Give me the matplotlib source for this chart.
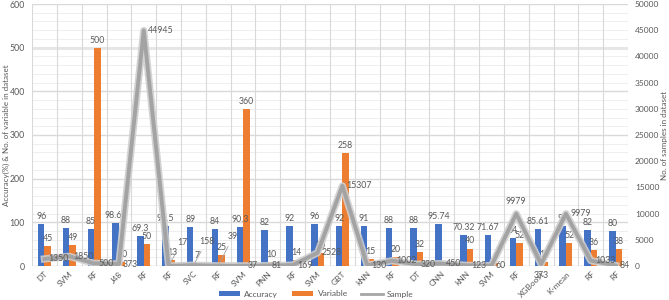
import matplotlib
matplotlib.use('Agg')
import matplotlib.pyplot as plt
from matplotlib.lines import Line2D
from matplotlib.patches import Patch
import numpy as np

plt.rcParams['font.family'] = ['Lato', 'DejaVu Sans']

models = ['DT', 'SVM', 'RF', 'J48', 'RF', 'RF', 'SVC', 'RF', 'SVM', 'PNN', 'RF', 'SVM',
          'GBT', 'kNN', 'RF', 'DT', 'CNN', 'kNN', 'SVM', 'RF', 'XGBoost', 'K-mean', 'RF', 'RF']
accuracy = [96, 88, 85, 98.66, 69.3, 91.5, 89, 84, 90.3, 82, 92, 96,
            92, 91, 88, 88, 95.74, 70.32, 71.67, 64, 85.61, 91, 82, 80]
variables = [45, 49, 500, 10, 50, 13, 7, 25, 360, 10, 14, 30,
             258, 15, 20, 32, np.nan, 40, 6, 52, 10, 52, 36, 38]
samples = [1350, 1850, 500, 373, 44945, 17, 158, 39, 37, 81, 169, 2528,
           15307, 130, 1002, 320, 450, 123, 60, 9979, 373, 9979, 1033, 84]

BLUE = '#4472C4'
ORANGE = '#ED7D31'
GRAY_TXT = '#595959'
FS = 6.3

fig = plt.figure(figsize=(6.69, 3.0), dpi=100)
ax = fig.add_axes([32 / 669, 34 / 300, 596 / 669, 262 / 300])
ax2 = ax.twinx()

x = np.arange(len(models))
w = 0.26

# grid
for v in np.arange(0, 601, 20):
    major = v % 100 == 0
    ax.axhline(v, color='#d9d9d9' if major else '#eeeeee', lw=1.0 if major else 0.7,
               zorder=0)
ax.axhline(500, color='#e6e6e6', lw=2.2, zorder=0)
for b in np.arange(-0.5, len(models), 1):
    ax.axvline(b, color='#d9d9d9', lw=0.8, zorder=0)

ax.bar(x - w / 2, accuracy, w, color=BLUE, zorder=2)
ax.bar(x + w / 2, np.nan_to_num(variables), w, color=ORANGE, zorder=2)

for i, a in enumerate(accuracy):
    ax.text(x[i] - w / 2, a + 7, f'{a:g}', ha='center', va='bottom',
            fontsize=FS, color=GRAY_TXT, zorder=5)
for i, v in enumerate(variables):
    if np.isnan(v):
        continue
    ax.text(x[i] + w / 2, v + 7, f'{v:g}', ha='center', va='bottom',
            fontsize=FS, color=GRAY_TXT, zorder=5)

# sample line on secondary axis
ax2.plot(x, samples, color='#cfcfcf', lw=5.2, alpha=0.9, zorder=3)
ax2.plot(x, samples, color='#a3a3a3', lw=2.8, zorder=4)

# sample labels: default right of the point; a few moved
special = {
    5: (6, 17, 'left'),
    6: (4, 17, 'left'),
    7: (7, 21, 'left'),
    19: (0, 9, 'center'),
    20: (0, -8, 'center'),
}
for i, s in enumerate(samples):
    if i in special:
        dx, dy, ha = special[i]
        arrow = dict(arrowstyle='-', color='#a0a0a0', lw=0.6) if i in (5, 6, 7) else None
        ax2.annotate(f'{s}', (x[i], s), xytext=(dx, dy), textcoords='offset points',
                     ha=ha, va='center', fontsize=FS, color=GRAY_TXT,
                     arrowprops=arrow, zorder=6)
    else:
        ax2.annotate(f'{s}', (x[i], s), xytext=(3, 0), textcoords='offset points',
                     ha='left', va='center', fontsize=FS, color=GRAY_TXT, zorder=6)

ax.set_xlim(-0.5, len(models) - 0.5)
ax.set_ylim(0, 600)
ax2.set_ylim(0, 50000)
ax.set_yticks(np.arange(0, 601, 100))
ax2.set_yticks(np.arange(0, 50001, 5000))
ax.set_xticks(x)
ax.set_xticklabels(models, rotation=45, ha='right', rotation_mode='anchor')

for a in (ax, ax2):
    for sp in a.spines.values():
        sp.set_visible(False)
    a.tick_params(length=0, labelsize=FS, colors=GRAY_TXT)
ax.tick_params(axis='x', pad=3, labelsize=6)
ax.tick_params(axis='y', pad=5)
ax2.tick_params(axis='y', pad=5, labelsize=6)
ax.axhline(0, color='#bfbfbf', lw=0.8, zorder=1)

ax.set_ylabel('Accuracy(%) & No. of variable in dataset', fontsize=5.8, color=GRAY_TXT)
ax.yaxis.set_label_coords(-22 / 596, 0.5)
ax2.set_ylabel('No. of samples in dataset', fontsize=5.8, color=GRAY_TXT)
ax2.yaxis.set_label_coords(1 + 33 / 596, 0.5)

handles = [Patch(facecolor=BLUE, label='Accuracy'),
           Patch(facecolor=ORANGE, label='Variable'),
           Line2D([0], [0], color='#a6a6a6', lw=2, label='Sample')]
leg = fig.legend(handles=handles, loc='center', bbox_to_anchor=(316 / 669, 0.02), ncol=3,
                 frameon=False, fontsize=6, handlelength=2.6, handleheight=0.6,
                 columnspacing=1.6, handletextpad=0.5, borderpad=0.1)
for t in leg.get_texts():
    t.set_color(GRAY_TXT)

fig.savefig('out.png', dpi=100, facecolor='white')
